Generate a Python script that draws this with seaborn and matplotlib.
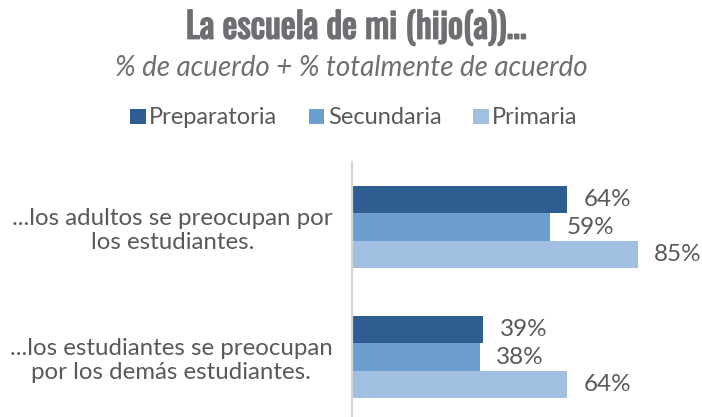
import pandas as pd
import matplotlib.pyplot as plt
import matplotlib.patheffects as pe
import seaborn as sns
from matplotlib.patches import Patch

# Data
categories = ["...los adultos se preocupan por\nlos estudiantes.",
              "...los estudiantes se preocupan\npor los demás estudiantes."]
series = ["Preparatoria", "Secundaria", "Primaria"]
preparatoria = [64, 39]
secundaria = [59, 38]
primaria = [85, 64]
colors = ["#2E5E91", "#6C9ECF", "#A1BFE1"]

df = pd.DataFrame({
    "pregunta": categories * 3,
    "nivel": [s for s in series for _ in categories],
    "pct": preparatoria + secundaria + primaria,
})

sns.set_style("white")
plt.rcParams["font.family"] = ["Lato", "DejaVu Sans"]
text_color = "#595959"
title_color = "#6D6F72"

fig = plt.figure(figsize=(7.02, 4.17), dpi=100)
ax = fig.add_axes([352 / 702, -5 / 417, 336 / 702, 260 / 417])

sns.barplot(data=df, y="pregunta", x="pct", hue="nivel", hue_order=series,
            palette=colors, saturation=1, width=0.63, orient="h",
            errorbar=None, linewidth=0, legend=False, ax=ax)

ax.set_xlim(0, 100)
ax.set_xlabel("")
ax.set_ylabel("")
ax.set_xticks([])
for side in ["top", "right", "bottom"]:
    ax.spines[side].set_visible(False)
ax.spines["left"].set_color("#D4D4D4")
ax.spines["left"].set_linewidth(1.6)
ax.tick_params(axis="y", length=0, pad=14, labelsize=17.3, labelcolor=text_color)
for lbl in ax.get_yticklabels():
    lbl.set_multialignment("center")

# Value labels
for cont in ax.containers:
    ax.bar_label(cont, labels=[f"{v:.0f}%" for v in cont.datavalues],
                 padding=12, fontsize=17.5, color=text_color)

# Legend
handles = [Patch(facecolor=c, edgecolor="none", label=s) for s, c in zip(series, colors)]
fig.legend(handles=handles, loc="center", bbox_to_anchor=(354 / 702, 1 - 118 / 417),
           ncol=3, frameon=False, fontsize=17, labelcolor=text_color,
           handlelength=0.65, handleheight=0.6, handletextpad=0.15,
           columnspacing=1.35)

# Titles (stroke to thicken the condensed face)
fig.text(356 / 702, 1 - 28 / 417, "La escuela de mi (hijo(a))...",
         family=["Oswald", "Roboto Condensed", "DejaVu Sans"], weight="bold",
         fontsize=25.5, color=title_color, ha="center", va="center",
         path_effects=[pe.withStroke(linewidth=1.2, foreground=title_color)])
fig.text(351 / 702, 1 - 68 / 417, "% de acuerdo + % totalmente de acuerdo",
         style="italic", fontsize=20, color=title_color, ha="center", va="center")

fig.savefig("out.png", dpi=100)
